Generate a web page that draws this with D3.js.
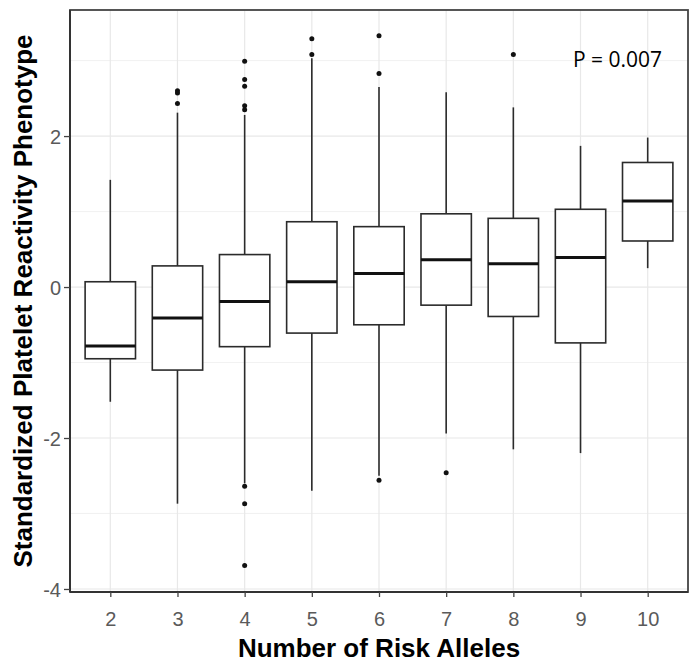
<!DOCTYPE html>
<html>
<head>
<meta charset="utf-8">
<script src="https://cdn.jsdelivr.net/npm/d3@7"></script>
<style>
  html, body { margin: 0; padding: 0; background: #fff; }
  svg { display: block; }
</style>
</head>
<body>
<svg id="chart" width="700" height="670"></svg>
<script>
// ---- data ----
const categories   = ["2", "3", "4", "5", "6", "7", "8", "9", "10"];
const whiskerLow   = [-1.52, -2.87, -2.60, -2.70, -2.50, -1.94, -2.15, -2.20, 0.25];
const q1Values     = [-0.95, -1.10, -0.79, -0.61, -0.50, -0.24, -0.39, -0.74, 0.61];
const medianValues = [-0.78, -0.41, -0.19, 0.07, 0.18, 0.36, 0.31, 0.39, 1.14];
const q3Values     = [0.07, 0.28, 0.43, 0.865, 0.80, 0.97, 0.91, 1.03, 1.65];
const whiskerHigh  = [1.42, 2.31, 2.28, 3.03, 2.65, 2.58, 2.38, 1.87, 1.98];
const outlierCats  = ["3", "3", "3", "4", "4", "4", "4", "4", "4", "4", "4", "5", "5", "6", "6", "6", "7", "8"];
const outlierVals  = [2.60, 2.57, 2.43, 2.99, 2.75, 2.66, 2.40, 2.35, -2.64, -2.87, -3.69, 3.29, 3.08, 3.33, 2.83, -2.56, -2.46, 3.08];
const yTicks       = [-4, -2, 0, 2];
const yTickLabels  = ["-4", "-2", "0", "2"];
const yMinorTicks  = [-3, -1, 1, 3];
const xTitle = "Number of Risk Alleles";
const yTitle = "Standardized Platelet Reactivity Phenotype";
const pLabel = "P = 0.007";

// ---- layout ----
const panel = { left: 70, right: 688, top: 10, bottom: 592 };
const svg = d3.select("#chart");

const x = d3.scalePoint().domain(categories).range([panel.left, panel.right]).padding(0.6);
const y = d3.scaleLinear().domain([-4.04, 3.67]).range([panel.bottom, panel.top]);
const boxW = x.step() * 0.75;

const boxes = categories.map((c, i) => ({
  cat: c, lo: whiskerLow[i], q1: q1Values[i], med: medianValues[i], q3: q3Values[i], hi: whiskerHigh[i]
}));
const outliers = outlierCats.map((c, i) => ({ cat: c, v: outlierVals[i] }));

// grid
const grid = svg.append("g");
grid.selectAll("line.minor").data(yMinorTicks).join("line")
  .attr("x1", panel.left).attr("x2", panel.right)
  .attr("y1", d => y(d)).attr("y2", d => y(d))
  .attr("stroke", "#eeeeee").attr("stroke-width", 0.8);
grid.selectAll("line.majy").data(yTicks).join("line")
  .attr("x1", panel.left).attr("x2", panel.right)
  .attr("y1", d => y(d)).attr("y2", d => y(d))
  .attr("stroke", "#e8e8e8").attr("stroke-width", 1.2);
grid.selectAll("line.majx").data(categories).join("line")
  .attr("x1", d => x(d)).attr("x2", d => x(d))
  .attr("y1", panel.top).attr("y2", panel.bottom)
  .attr("stroke", "#e8e8e8").attr("stroke-width", 1.2);

// boxes
const g = svg.append("g");
const bg = g.selectAll("g.box").data(boxes).join("g");
bg.append("line")
  .attr("x1", d => x(d.cat)).attr("x2", d => x(d.cat))
  .attr("y1", d => y(d.hi)).attr("y2", d => y(d.q3))
  .attr("stroke", "#2b2b2b").attr("stroke-width", 1.6);
bg.append("line")
  .attr("x1", d => x(d.cat)).attr("x2", d => x(d.cat))
  .attr("y1", d => y(d.q1)).attr("y2", d => y(d.lo))
  .attr("stroke", "#2b2b2b").attr("stroke-width", 1.6);
bg.append("rect")
  .attr("x", d => x(d.cat) - boxW / 2).attr("width", boxW)
  .attr("y", d => y(d.q3)).attr("height", d => y(d.q1) - y(d.q3))
  .attr("fill", "#fff").attr("stroke", "#2b2b2b").attr("stroke-width", 1.6);
bg.append("line")
  .attr("x1", d => x(d.cat) - boxW / 2).attr("x2", d => x(d.cat) + boxW / 2)
  .attr("y1", d => y(d.med)).attr("y2", d => y(d.med))
  .attr("stroke", "#111").attr("stroke-width", 3);

// outliers
g.selectAll("circle").data(outliers).join("circle")
  .attr("cx", d => x(d.cat)).attr("cy", d => y(d.v)).attr("r", 2.5)
  .attr("fill", "#111");

// panel border
svg.append("rect")
  .attr("x", panel.left).attr("y", panel.top)
  .attr("width", panel.right - panel.left).attr("height", panel.bottom - panel.top)
  .attr("fill", "none").attr("stroke", "#444").attr("stroke-width", 1.8);
// darker axis lines (left and bottom)
svg.append("line").attr("x1", panel.left).attr("x2", panel.left)
  .attr("y1", panel.top).attr("y2", panel.bottom).attr("stroke", "#333").attr("stroke-width", 2);
svg.append("line").attr("x1", panel.left).attr("x2", panel.right)
  .attr("y1", panel.bottom).attr("y2", panel.bottom).attr("stroke", "#333").attr("stroke-width", 2);

// axes
const xAxis = svg.append("g").attr("transform", `translate(0,${panel.bottom})`)
  .call(d3.axisBottom(x).tickSize(5).tickPadding(15));
const yAxis = svg.append("g").attr("transform", `translate(${panel.left},0)`)
  .call(d3.axisLeft(y).tickValues(yTicks).tickSize(6).tickPadding(3)
    .tickFormat((d, i) => yTickLabels[i]));
[xAxis, yAxis].forEach(a => {
  a.select(".domain").remove();
  a.selectAll(".tick line").attr("stroke", "#444").attr("stroke-width", 1.3);
  a.selectAll(".tick text").attr("fill", "#5a5a5a")
    .style("font-family", "'Liberation Sans', Arial, sans-serif").style("font-size", "20px");
});
yAxis.selectAll(".tick text").attr("dy", "0.36em");

// titles
svg.append("text")
  .attr("x", (panel.left + panel.right) / 2).attr("y", 657)
  .attr("text-anchor", "middle")
  .style("font-family", "'Liberation Sans', Arial, sans-serif")
  .style("font-weight", "bold").style("font-size", "26px").attr("fill", "#000")
  .text(xTitle);
svg.append("text")
  .attr("transform", `translate(32,${(panel.top + panel.bottom) / 2}) rotate(-90)`)
  .attr("text-anchor", "middle")
  .style("font-family", "'Liberation Sans', Arial, sans-serif")
  .style("font-weight", "bold").style("font-size", "26px").attr("fill", "#000")
  .text(yTitle);

// annotation
svg.append("text")
  .attr("x", 573).attr("y", 67)
  .style("font-family", "'Open Sans', sans-serif").style("font-size", "21px").attr("fill", "#000")
  .text(pLabel);
</script>
</body>
</html>
